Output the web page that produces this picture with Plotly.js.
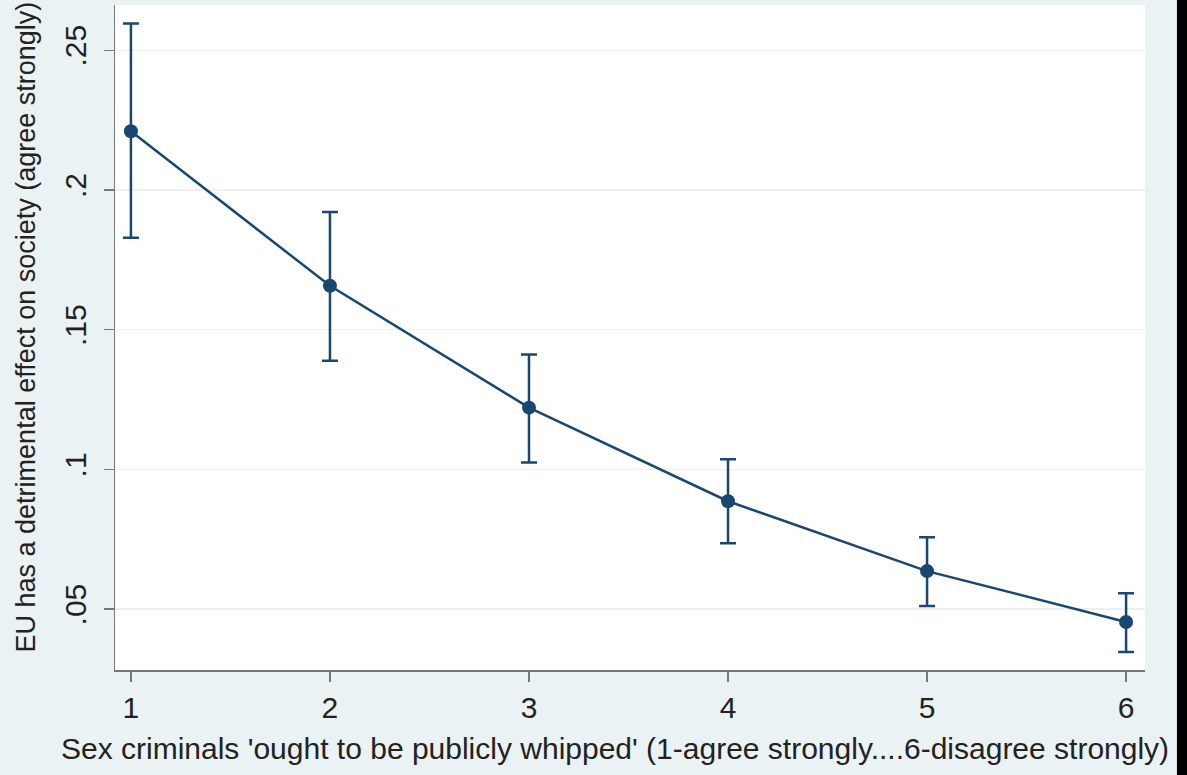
<!DOCTYPE html>
<html>
<head>
<meta charset="utf-8">
<script src="https://cdn.plot.ly/plotly-3.0.1.min.js"></script>
<style>html,body{margin:0;padding:0;background:#EAF2F3;}#chart{width:1187px;height:775px;}</style>
</head>
<body>
<div id="chart"></div>
<script>
var categories = [1, 2, 3, 4, 5, 6];
var margins = [0.221, 0.1657, 0.1221, 0.0886, 0.0636, 0.0454];
var ciUpper = [0.2596, 0.1921, 0.1411, 0.1036, 0.0757, 0.0557];
var ciLower = [0.1829, 0.1389, 0.1025, 0.0736, 0.0511, 0.0346];
var yTickVals = [0.05, 0.1, 0.15, 0.2, 0.25];
var yTickText = ['.05', '.1', '.15', '.2', '.25'];
var xTitle = "Sex criminals 'ought to be publicly whipped' (1-agree strongly....6-disagree strongly)";
var yTitle = "EU has a detrimental effect on society (agree strongly)";

var navy = '#1A476F';
var errPlus = ciUpper.map(function(u, i){ return u - margins[i]; });
var errMinus = ciLower.map(function(l, i){ return margins[i] - l; });

var trace = {
  x: categories,
  y: margins,
  type: 'scatter',
  mode: 'lines+markers',
  line: {color: navy, width: 2.5},
  marker: {color: navy, size: 14},
  error_y: {type: 'data', symmetric: false, array: errPlus, arrayminus: errMinus,
            color: navy, thickness: 2.5, width: 8},
  hoverinfo: 'skip'
};

var tickFont = {family: 'Liberation Sans, Arial, sans-serif', size: 30, color: '#222'};
var titleFont = {family: 'Liberation Sans, Arial, sans-serif', size: 30, color: '#222'};
var yTitleFont = {family: 'Liberation Sans, Arial, sans-serif', size: 27, color: '#222'};
var layout = {
  width: 1187, height: 775,
  margin: {l: 115, r: 42, t: 5, b: 105},
  paper_bgcolor: '#EAF2F3',
  plot_bgcolor: '#FFFFFF',
  font: tickFont,
  showlegend: false,
  xaxis: {
    range: [0.92, 6.095],
    tickvals: categories,
    ticktext: categories.map(String),
    ticks: 'outside', ticklen: 10, tickwidth: 1.5, tickcolor: '#777',
    showline: true, linecolor: '#777', linewidth: 1.5,
    showgrid: false, zeroline: false,
    tickfont: tickFont
  },
  yaxis: {
    range: [0.0282, 0.2662],
    tickvals: yTickVals,
    ticktext: yTickText,
    tickangle: -90,
    ticklabelstandoff: 6,
    ticks: 'outside', ticklen: 10, tickwidth: 1.5, tickcolor: '#777',
    showline: true, linecolor: '#777', linewidth: 1.5,
    showgrid: true, gridcolor: '#EEF0EC', gridwidth: 1.5,
    zeroline: false,
    tickfont: tickFont
  },
  annotations: [{
    text: yTitle, textangle: -90, showarrow: false,
    xref: 'paper', yref: 'paper',
    x: -0.0864, y: 0.0226, xanchor: 'center', yanchor: 'bottom',
    font: yTitleFont
  }, {
    text: xTitle, showarrow: false,
    xref: 'paper', yref: 'paper',
    x: 0.4854, y: -0.1173, xanchor: 'center', yanchor: 'middle',
    font: titleFont
  }],
  shapes: [{
    type: 'rect', xref: 'paper', yref: 'paper',
    x0: 1.031, x1: 1.1, y0: -0.2, y1: 1.1,
    fillcolor: '#000', line: {width: 0}, layer: 'above'
  }]
};

Plotly.newPlot('chart', [trace], layout, {displayModeBar: false, staticPlot: true});
</script>
</body>
</html>
